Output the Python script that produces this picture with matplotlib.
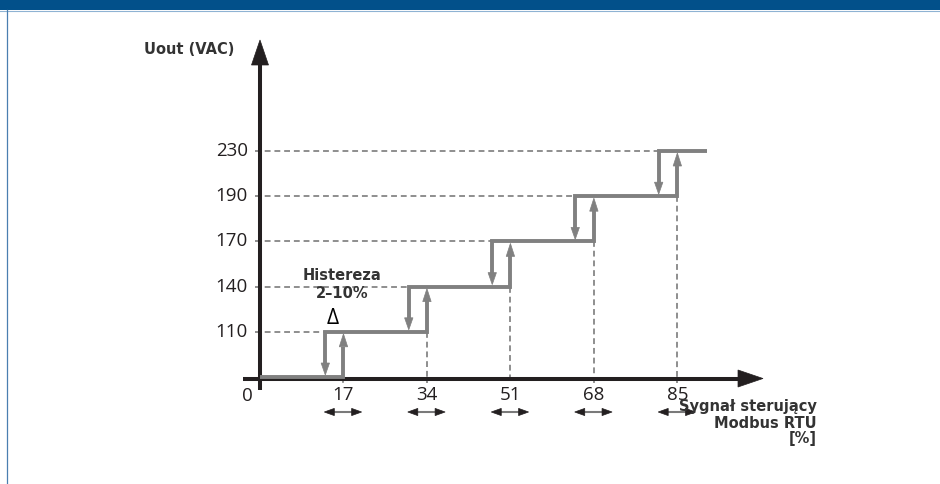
import matplotlib
matplotlib.use("Agg")
import matplotlib.pyplot as plt
from matplotlib.patches import Polygon, Rectangle
import numpy as np

# ---- data ----
levels = [0, 110, 140, 170, 190, 230]          # output voltage steps (VAC)
level_labels = ["110", "140", "170", "190", "230"]
rise_pct = [17, 34, 51, 68, 85]                # switching-up thresholds (%)
fall_pct = [13.3, 30.3, 47.3, 64.2, 81.2]      # switching-down thresholds (%)
x_tick_labels = ["17", "34", "51", "68", "85"]
x_end = 91
hyst_left, hyst_right = 3.9, 3.7

# ---- layout (pixel scale of the drawing) ----
W, H = 940, 484
X0_PX, PX_PER_PCT = 260, 4.91
Y0_PX, PX_PER_LEVEL = 377, 45.2
DX = 1 / PX_PER_PCT      # data units per pixel (x)
DY = 1 / PX_PER_LEVEL    # data units per pixel (y)

fig = plt.figure(figsize=(W / 100, H / 100), dpi=100)
ax = fig.add_axes([0, 0, 1, 1])
ax.set_xlim(-X0_PX * DX, (W - X0_PX) * DX)
ax.set_ylim((Y0_PX - H) * DY, Y0_PX * DY)
ax.axis("off")

AX_COL = "#231f20"
STEP_COL = "#808080"
DASH_COL = "#8e8e8e"
BOLD = dict(family="DejaVu Sans", fontweight="bold", fontsize=10.5, color="#333333")
NUM = dict(family=["Open Sans", "DejaVu Sans"], fontsize=13.5, color=AX_COL)


def head(tipx, tipy, direction, length_px, half_px, color, z):
    ux, uy = direction
    # work in pixel space then convert
    bx, by = -ux * length_px, -uy * length_px
    px, py = -uy * half_px, ux * half_px
    pts = [(tipx, tipy),
           (tipx + (bx + px) * DX, tipy + (by + py) * DY),
           (tipx + (bx - px) * DX, tipy + (by - py) * DY)]
    ax.add_patch(Polygon(pts, closed=True, facecolor=color, edgecolor=color,
                         lw=0.5, zorder=z))


# header bar and frame
fig.patches.append(Rectangle((0, 1 - 10 / H), 1, 10 / H, transform=fig.transFigure,
                             facecolor="#02508a", edgecolor="none"))
fig.lines.append(plt.Line2D([0, 1], [1 - 10.5 / H] * 2, transform=fig.transFigure,
                            color="#8fb3d3", lw=0.8))
fig.lines.append(plt.Line2D([7.5 / W] * 2, [0, 1 - 10 / H], transform=fig.transFigure,
                            color="#4a7fb0", lw=0.9))

n = len(levels)
idx = np.arange(n)

# dashed guides
for i in range(1, n):
    ax.plot([-1.0, fall_pct[i - 1]], [idx[i]] * 2, color=DASH_COL, lw=1.4,
            dashes=(3, 2), zorder=2)
for i in range(len(rise_pct)):
    ax.plot([rise_pct[i]] * 2, [idx[i], -6 * DY], color=DASH_COL, lw=1.4,
            dashes=(3, 2), zorder=2)

# axes with arrowheads
ax.plot([0, 0], [-13 * DY, (Y0_PX - 63) * DY], color=AX_COL, lw=2.9,
        solid_capstyle="butt", zorder=3)
head(0, (Y0_PX - 40) * DY, (0, 1), 25, 8.5, AX_COL, 3)
xa_y = -1.5 * DY
ax.plot([-3.5, (738 - X0_PX) * DX + 1], [xa_y] * 2, color=AX_COL, lw=2.9,
        solid_capstyle="butt", zorder=3)
head((763 - X0_PX) * DX, xa_y, (1, 0), 25, 8.5, AX_COL, 3)

# step characteristic
slw = 2.8
ax.plot([0, rise_pct[0], rise_pct[0]], [idx[0], idx[0], idx[1] - 15 * DY],
        color=STEP_COL, lw=slw, solid_joinstyle="miter", solid_capstyle="butt", zorder=4)
head(rise_pct[0], idx[1] - 2 * DY, (0, 1), 13, 4.2, STEP_COL, 4)
for i in range(1, n):
    f = fall_pct[i - 1]
    if i < n - 1:
        r = rise_pct[i]
        xs = [f, f, r, r]
        ys = [idx[i - 1] + 13 * DY, idx[i], idx[i], idx[i + 1] - 14 * DY]
        head(r, idx[i + 1] - 2 * DY, (0, 1), 13, 4.2, STEP_COL, 4)
    else:
        xs = [f, f, x_end]
        ys = [idx[i - 1] + 13 * DY, idx[i], idx[i]]
    ax.plot(xs, ys, color=STEP_COL, lw=slw, solid_joinstyle="miter",
            solid_capstyle="butt", zorder=4)
    head(f, idx[i - 1] + 2 * DY, (0, -1), 12, 4.2, STEP_COL, 4)

# hysteresis double arrows
ya = -35 * DY
for r in rise_pct:
    ax.plot([r - hyst_left + 8 * DX, r + hyst_right - 8 * DX], [ya, ya],
            color="#7a7a7a", lw=1.5, zorder=4)
    head(r - hyst_left, ya, (-1, 0), 10, 3.6, AX_COL, 5)
    head(r + hyst_right, ya, (1, 0), 10, 3.6, AX_COL, 5)

# tick labels
for r, lab in zip(rise_pct, x_tick_labels):
    ax.text(r, -18 * DY, lab, ha="center", va="center", **NUM)
for i, lab in zip(idx[1:], level_labels):
    ax.text(-12 * DX, i, lab, ha="right", va="center", **NUM)
ax.text(-13 * DX, -19 * DY, "0", ha="center", va="center", **NUM)

# annotations
ax.text((189 - X0_PX) * DX, (Y0_PX - 49) * DY, "Uout (VAC)", ha="center",
        va="center", **BOLD)
ax.text((342 - X0_PX) * DX, (Y0_PX - 276) * DY, "Histereza", ha="center",
        va="center", **BOLD)
ax.text((342 - X0_PX) * DX, (Y0_PX - 294) * DY, "2\u201310%", ha="center",
        va="center", **BOLD)
ax.text((333 - X0_PX) * DX, (Y0_PX - 319) * DY, "\u0394", ha="center", va="center",
        family=["Open Sans", "DejaVu Sans"], fontsize=15, color="black")
for k, line in enumerate(["Sygna\u0142 steruj\u0105cy", "Modbus RTU", "[%]"]):
    ax.text((817 - X0_PX) * DX, (Y0_PX - 407 - 16 * k) * DY, line, ha="right",
            va="center", zorder=6, **BOLD)

fig.savefig("out.png", dpi=100)
